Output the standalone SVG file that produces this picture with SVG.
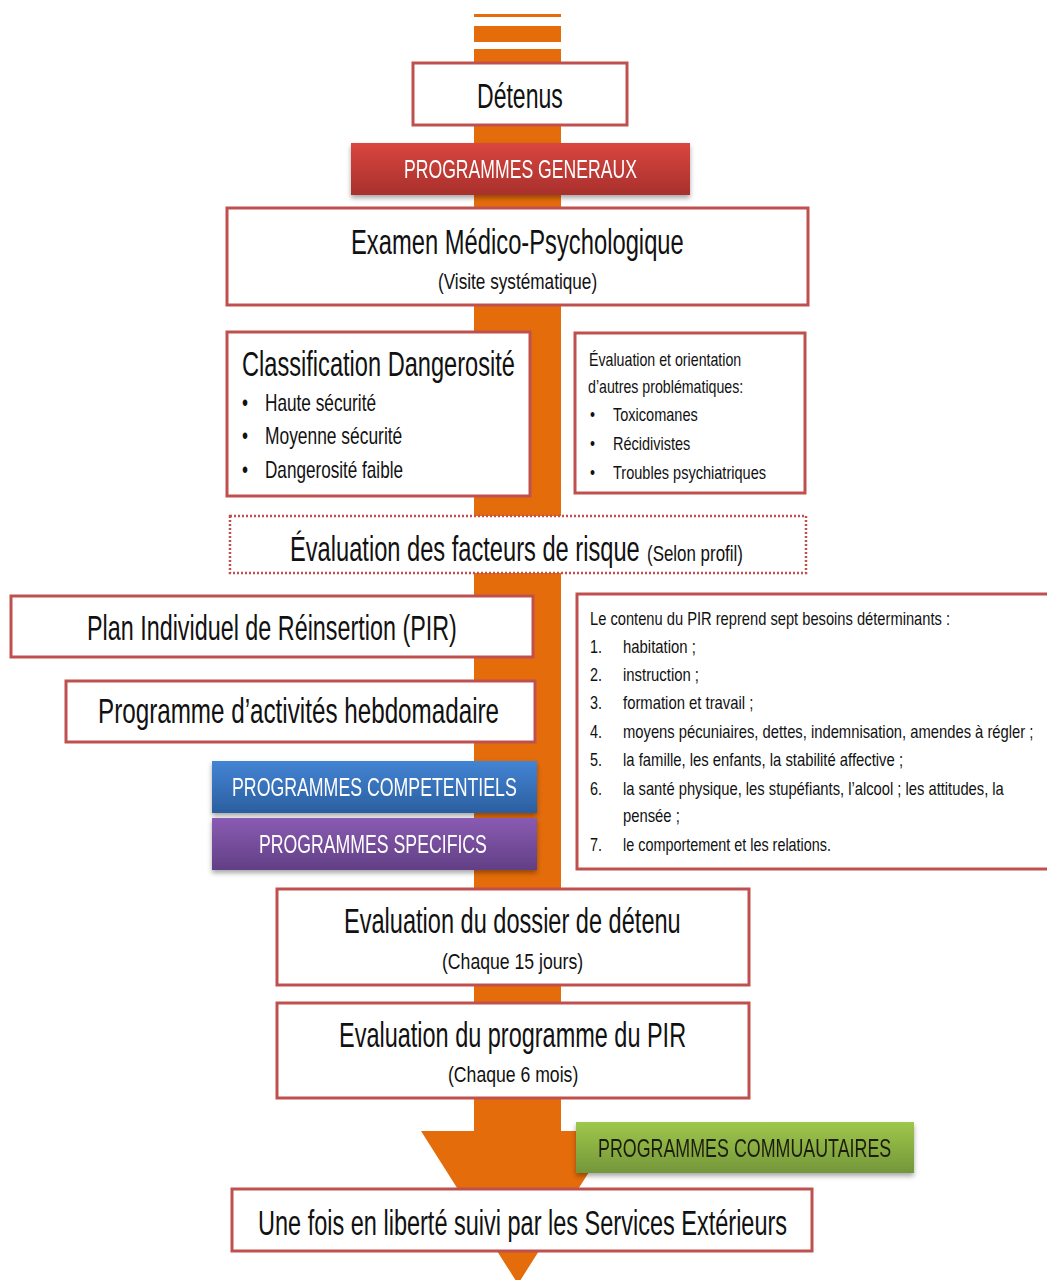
<svg xmlns="http://www.w3.org/2000/svg" width="1047" height="1280" viewBox="0 0 1047 1280">
  <defs>
    <linearGradient id="gRed" x1="0" y1="0" x2="0" y2="1">
      <stop offset="0" stop-color="#d9463f"/>
      <stop offset="1" stop-color="#a8302c"/>
    </linearGradient>
    <linearGradient id="gBlue" x1="0" y1="0" x2="0" y2="1">
      <stop offset="0" stop-color="#4384d4"/>
      <stop offset="1" stop-color="#2b5f9f"/>
    </linearGradient>
    <linearGradient id="gPurple" x1="0" y1="0" x2="0" y2="1">
      <stop offset="0" stop-color="#8a5bb2"/>
      <stop offset="1" stop-color="#613f85"/>
    </linearGradient>
    <linearGradient id="gGreen" x1="0" y1="0" x2="0" y2="1">
      <stop offset="0" stop-color="#9fc74a"/>
      <stop offset="1" stop-color="#74963a"/>
    </linearGradient>
    <filter id="shadow" x="-10%" y="-20%" width="120%" height="160%">
      <feDropShadow dx="0" dy="3" stdDeviation="2.5" flood-color="#000" flood-opacity="0.35"/>
    </filter>
  </defs>
  <style>
    .box { fill: #ffffff; stroke: #c0504d; stroke-width: 3; }
    .dotted { fill: #ffffff; stroke: #c0504d; stroke-width: 2.5; stroke-dasharray: 2 2; }
    .t { font-family: "Liberation Sans", Arial, sans-serif; fill: #111111; }
    .big { font-size: 36px; }
    .sub { font-size: 22px; }
    .item { font-size: 23px; }
    .small { font-size: 19px; }
    .list { font-size: 18px; }
    .prog { font-family: "Liberation Sans", Arial, sans-serif; font-size: 25px; fill: #ffffff; }
    .arrow { fill: #e46c0a; }
  </style>

  <rect width="1047" height="1280" fill="#ffffff"/>

  <!-- main orange flow arrow -->
  <g id="connectors">
    <rect class="arrow" x="474" y="14" width="87" height="3"/>
    <rect class="arrow" x="474" y="26" width="87" height="16"/>
    <polygon class="arrow" points="474,49 561,49 561,1131 615,1131 518,1284 421,1131 474,1131"/>
  </g>

  <!-- all labels use a narrow face: Liberation Sans squeezed horizontally -->
  <g id="detenus">
    <rect class="box" x="413" y="63" width="214" height="62"/>
    <text class="t big" transform="translate(477,108) scale(0.65,1)" textLength="132" lengthAdjust="spacingAndGlyphs">Détenus</text>
  </g>

  <g id="prog-generaux" filter="url(#shadow)">
    <rect x="351" y="143" width="339" height="52" fill="url(#gRed)"/>
    <text class="prog" transform="translate(404,178) scale(0.71,1)" textLength="328" lengthAdjust="spacingAndGlyphs">PROGRAMMES GENERAUX</text>
  </g>

  <g id="examen">
    <rect class="box" x="227" y="208" width="581" height="97"/>
    <text class="t big" transform="translate(351,254) scale(0.65,1)" textLength="512" lengthAdjust="spacingAndGlyphs">Examen Médico-Psychologique</text>
    <text class="t sub" transform="translate(438,289) scale(0.78,1)" textLength="204" lengthAdjust="spacingAndGlyphs">(Visite  systématique)</text>
  </g>

  <g id="classification">
    <rect class="box" x="227" y="332" width="303" height="164"/>
    <text class="t big" transform="translate(242,376) scale(0.65,1)" textLength="420" lengthAdjust="spacingAndGlyphs">Classification  Dangerosité</text>
    <text class="t item" transform="translate(242,411) scale(0.75,1)">•</text>
    <text class="t item" transform="translate(265,411) scale(0.75,1)" textLength="148" lengthAdjust="spacingAndGlyphs">Haute  sécurité</text>
    <text class="t item" transform="translate(242,444) scale(0.75,1)">•</text>
    <text class="t item" transform="translate(265,444) scale(0.75,1)" textLength="183" lengthAdjust="spacingAndGlyphs">Moyenne  sécurité</text>
    <text class="t item" transform="translate(242,478) scale(0.75,1)">•</text>
    <text class="t item" transform="translate(265,478) scale(0.75,1)" textLength="184" lengthAdjust="spacingAndGlyphs">Dangerosité  faible</text>
  </g>

  <g id="autres-problematiques">
    <rect class="box" x="575" y="333" width="230" height="160"/>
    <text class="t small" transform="translate(589,366) scale(0.75,1)" textLength="203" lengthAdjust="spacingAndGlyphs">Évaluation et orientation</text>
    <text class="t small" transform="translate(588,393) scale(0.75,1)" textLength="207" lengthAdjust="spacingAndGlyphs">d’autres  problématiques:</text>
    <text class="t small" transform="translate(590,421) scale(0.75,1)">•</text>
    <text class="t small" transform="translate(613,421) scale(0.75,1)" textLength="113" lengthAdjust="spacingAndGlyphs">Toxicomanes</text>
    <text class="t small" transform="translate(590,450) scale(0.75,1)">•</text>
    <text class="t small" transform="translate(613,450) scale(0.75,1)" textLength="103" lengthAdjust="spacingAndGlyphs">Récidivistes</text>
    <text class="t small" transform="translate(590,479) scale(0.75,1)">•</text>
    <text class="t small" transform="translate(613,479) scale(0.75,1)" textLength="204" lengthAdjust="spacingAndGlyphs">Troubles  psychiatriques</text>
  </g>

  <g id="facteurs-risque">
    <rect class="dotted" x="230" y="516" width="576" height="57"/>
    <text class="t big" transform="translate(290,561) scale(0.65,1)" textLength="538" lengthAdjust="spacingAndGlyphs">Évaluation des facteurs de risque</text>
    <text class="t sub" transform="translate(647,561) scale(0.78,1)" textLength="123" lengthAdjust="spacingAndGlyphs">(Selon  profil)</text>
  </g>

  <g id="pir">
    <rect class="box" x="11" y="596" width="522" height="61"/>
    <text class="t big" transform="translate(87,640) scale(0.65,1)" textLength="569" lengthAdjust="spacingAndGlyphs">Plan Individuel de Réinsertion (PIR)</text>
  </g>

  <g id="activites">
    <rect class="box" x="66" y="681" width="469" height="61"/>
    <text class="t big" transform="translate(98,723) scale(0.65,1)" textLength="617" lengthAdjust="spacingAndGlyphs">Programme  d’activités  hebdomadaire</text>
  </g>

  <g id="pir-contenu">
    <rect class="box" x="577" y="594" width="490" height="275"/>
    <text class="t list" transform="translate(590,625) scale(0.8,1)" textLength="450" lengthAdjust="spacingAndGlyphs">Le contenu  du PIR reprend  sept besoins déterminants   :</text>
    <text class="t list" transform="translate(590,653) scale(0.8,1)">1.</text>
    <text class="t list" transform="translate(623,653) scale(0.8,1)" textLength="91" lengthAdjust="spacingAndGlyphs">habitation   ;</text>
    <text class="t list" transform="translate(590,681) scale(0.8,1)">2.</text>
    <text class="t list" transform="translate(623,681) scale(0.8,1)" textLength="95" lengthAdjust="spacingAndGlyphs">instruction   ;</text>
    <text class="t list" transform="translate(590,709) scale(0.8,1)">3.</text>
    <text class="t list" transform="translate(623,709) scale(0.8,1)" textLength="163" lengthAdjust="spacingAndGlyphs">formation  et travail ;</text>
    <text class="t list" transform="translate(590,738) scale(0.8,1)">4.</text>
    <text class="t list" transform="translate(623,738) scale(0.8,1)" textLength="513" lengthAdjust="spacingAndGlyphs">moyens pécuniaires,  dettes,  indemnisation,  amendes  à régler  ;</text>
    <text class="t list" transform="translate(590,766) scale(0.8,1)">5.</text>
    <text class="t list" transform="translate(623,766) scale(0.8,1)" textLength="350" lengthAdjust="spacingAndGlyphs">la famille,  les enfants,  la stabilité  affective  ;</text>
    <text class="t list" transform="translate(590,795) scale(0.8,1)">6.</text>
    <text class="t list" transform="translate(623,795) scale(0.8,1)" textLength="476" lengthAdjust="spacingAndGlyphs">la santé  physique, les stupéfiants,   l’alcool ; les attitudes,  la</text>
    <text class="t list" transform="translate(623,822) scale(0.8,1)" textLength="71" lengthAdjust="spacingAndGlyphs">pensée ;</text>
    <text class="t list" transform="translate(590,851) scale(0.8,1)">7.</text>
    <text class="t list" transform="translate(623,851) scale(0.8,1)" textLength="260" lengthAdjust="spacingAndGlyphs">le comportement  et les relations.</text>
  </g>

  <g id="prog-competentiels" filter="url(#shadow)">
    <rect x="212" y="761" width="325" height="52" fill="url(#gBlue)"/>
    <text class="prog" transform="translate(232,796) scale(0.71,1)" textLength="401" lengthAdjust="spacingAndGlyphs">PROGRAMMES COMPETENTIELS</text>
  </g>

  <g id="prog-specifics" filter="url(#shadow)">
    <rect x="212" y="818" width="325" height="52" fill="url(#gPurple)"/>
    <text class="prog" transform="translate(259,853) scale(0.71,1)" textLength="321" lengthAdjust="spacingAndGlyphs">PROGRAMMES SPECIFICS</text>
  </g>

  <g id="eval-dossier">
    <rect class="box" x="277" y="889" width="472" height="96"/>
    <text class="t big" transform="translate(344,933) scale(0.65,1)" textLength="518" lengthAdjust="spacingAndGlyphs">Evaluation  du dossier de détenu</text>
    <text class="t sub" transform="translate(442,969) scale(0.78,1)" textLength="181" lengthAdjust="spacingAndGlyphs">(Chaque   15 jours)</text>
  </g>

  <g id="eval-programme">
    <rect class="box" x="277" y="1003" width="472" height="95"/>
    <text class="t big" transform="translate(339,1047) scale(0.65,1)" textLength="534" lengthAdjust="spacingAndGlyphs">Evaluation  du programme du PIR</text>
    <text class="t sub" transform="translate(448,1082) scale(0.78,1)" textLength="167" lengthAdjust="spacingAndGlyphs">(Chaque   6 mois)</text>
  </g>

  <g id="prog-communautaires" filter="url(#shadow)">
    <rect x="576" y="1122" width="338" height="51" fill="url(#gGreen)"/>
    <text class="prog" transform="translate(598,1157) scale(0.71,1)" style="fill:#1e1e10" textLength="413" lengthAdjust="spacingAndGlyphs">PROGRAMMES COMMUAUTAIRES</text>
  </g>

  <g id="liberte">
    <rect class="box" x="232" y="1189" width="580" height="62"/>
    <text class="t big" transform="translate(258,1235) scale(0.65,1)" textLength="814" lengthAdjust="spacingAndGlyphs">Une fois  en liberté  suivi  par les Services Extérieurs</text>
  </g>
</svg>
